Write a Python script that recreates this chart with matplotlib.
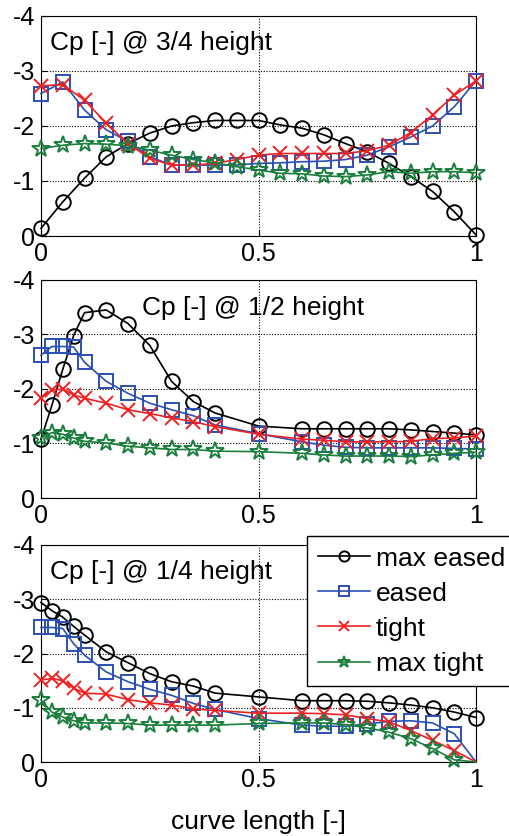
import matplotlib
matplotlib.use("Agg")
import matplotlib.pyplot as plt

plt.rcParams['font.family'] = ['Liberation Sans', 'DejaVu Sans']
plt.rcParams['axes.unicode_minus'] = False

# curve length positions
x_top = [0, 0.05, 0.1, 0.15, 0.2, 0.25, 0.3, 0.35, 0.4, 0.45, 0.5,
         0.55, 0.6, 0.65, 0.7, 0.75, 0.8, 0.85, 0.9, 0.95, 1.0]
x_low = [0, 0.025, 0.05, 0.075, 0.1, 0.15, 0.2, 0.25, 0.3, 0.35, 0.4,
         0.5, 0.6, 0.65, 0.7, 0.75, 0.8, 0.85, 0.9, 0.95, 1.0]

# Cp @ 3/4 height
h34_max_eased = [-0.14, -0.62, -1.05, -1.44, -1.68, -1.87, -2.0, -2.06, -2.1, -2.1, -2.1,
                 -2.02, -1.96, -1.84, -1.68, -1.53, -1.32, -1.08, -0.81, -0.44, -0.02]
h34_eased = [-2.59, -2.8, -2.29, -1.93, -1.72, -1.44, -1.29, -1.29, -1.29, -1.29, -1.32,
             -1.33, -1.35, -1.36, -1.39, -1.47, -1.62, -1.8, -2.0, -2.35, -2.82]
h34_tight = [-2.73, -2.75, -2.47, -2.05, -1.68, -1.41, -1.29, -1.29, -1.32, -1.39, -1.47,
             -1.5, -1.5, -1.5, -1.5, -1.55, -1.65, -1.88, -2.2, -2.56, -2.82]
h34_max_tight = [-1.59, -1.65, -1.68, -1.67, -1.64, -1.56, -1.47, -1.39, -1.33, -1.26, -1.2,
                 -1.14, -1.13, -1.09, -1.08, -1.11, -1.17, -1.14, -1.17, -1.17, -1.15]

# Cp @ 1/2 height
h12_max_eased = [-1.08, -1.7, -2.36, -2.98, -3.4, -3.45, -3.2, -2.8, -2.14, -1.77, -1.56,
                 -1.32, -1.27, -1.27, -1.27, -1.27, -1.27, -1.25, -1.22, -1.19, -1.16]
h12_eased = [-2.62, -2.78, -2.78, -2.77, -2.49, -2.14, -1.92, -1.74, -1.62, -1.51, -1.34,
             -1.18, -1.03, -0.97, -0.93, -0.92, -0.92, -0.92, -0.92, -0.91, -0.9]
h12_tight = [-1.83, -1.98, -2.0, -1.89, -1.83, -1.74, -1.62, -1.55, -1.47, -1.4, -1.31,
             -1.17, -1.08, -1.06, -1.03, -1.03, -1.03, -1.04, -1.09, -1.1, -1.14]
h12_max_tight = [-1.1, -1.2, -1.17, -1.1, -1.04, -1.01, -0.95, -0.92, -0.89, -0.89, -0.86,
                 -0.85, -0.82, -0.79, -0.77, -0.77, -0.77, -0.76, -0.79, -0.82, -0.84]

# Cp @ 1/4 height
h14_max_eased = [-2.94, -2.79, -2.67, -2.5, -2.34, -2.03, -1.83, -1.63, -1.48, -1.4, -1.27,
                 -1.2, -1.13, -1.13, -1.13, -1.12, -1.09, -1.05, -1.0, -0.92, -0.82]
h14_eased = [-2.48, -2.48, -2.46, -2.18, -1.97, -1.66, -1.48, -1.34, -1.23, -1.08, -0.97,
             -0.8, -0.68, -0.66, -0.66, -0.7, -0.75, -0.76, -0.72, -0.52, 0.0]
h14_tight = [-1.51, -1.54, -1.5, -1.36, -1.27, -1.25, -1.15, -1.09, -1.05, -0.98, -0.95,
             -0.9, -0.9, -0.89, -0.87, -0.8, -0.74, -0.58, -0.4, -0.21, 0.0]
h14_max_tight = [-1.14, -0.92, -0.83, -0.76, -0.72, -0.72, -0.71, -0.68, -0.68, -0.68, -0.68,
                 -0.71, -0.72, -0.72, -0.69, -0.63, -0.55, -0.43, -0.25, -0.04, 0.0]

labels = ['max eased', 'eased', 'tight', 'max tight']
colors = ['black', '#2a4fb5', '#f02020', '#1a7f3c']
markers = ['o', 's', 'x', '*']
msizes = [10.5, 9.5, 9.5, 13]

panels = [
    (x_top, [h34_max_eased, h34_eased, h34_tight, h34_max_tight], 'Cp [-] @ 3/4 height',
     (50, 43), [0.0804, 0.7177, 0.853, 0.2632], False),
    (x_low, [h12_max_eased, h12_eased, h12_tight, h12_max_tight], 'Cp [-] @ 1/2 height',
     (142, 308), [0.0804, 0.4043, 0.853, 0.2608], False),
    (x_low, [h14_max_eased, h14_eased, h14_tight, h14_max_tight], 'Cp [-] @ 1/4 height',
     (50, 572), [0.0804, 0.0885, 0.853, 0.2596], True),
]

fig = plt.figure(figsize=(5.1, 8.36), dpi=100)

handles = []
for xs, series, title, (tx, ty), rect, last in panels:
    ax = fig.add_axes(rect)
    handles = []
    for k, ys in enumerate(series):
        n = len(ys)
        # the curves that end on zero at the tip have no marker there
        if last and k > 0:
            mk = list(range(n - 1))
        else:
            mk = None
        h, = ax.plot(xs, ys, color=colors[k], marker=markers[k], ms=msizes[k],
                     mfc='none', mec=colors[k], mew=1.4, lw=1.2, markevery=mk,
                     clip_on=False, label=labels[k], zorder=3)
        handles.append(h)
    ax.set_xlim(0, 1)
    ax.set_ylim(0, -4)
    ax.set_xticks([0, 0.5, 1])
    ax.set_xticklabels(['0', '0.5', '1'])
    ax.set_yticks([0, -1, -2, -3, -4])
    ax.set_yticklabels(['0', '-1', '-2', '-3', '-4'])
    ax.tick_params(direction='in', length=4, labelsize=18, pad=4)
    ax.grid(True, color='black', linestyle=(0, (1, 1.5)), lw=0.8)
    for s in ax.spines.values():
        s.set_linewidth(0.8)
    fig.text(tx / 510, 1 - ty / 836, title, fontsize=19, va='center', ha='left')

ax.set_xlabel('curve length [-]', fontsize=19, labelpad=13)

leg = ax.legend(handles, labels, loc='upper left', bbox_to_anchor=(307 / 510, 1 - 536 / 836),
                bbox_transform=fig.transFigure, fontsize=19, frameon=True, fancybox=False,
                edgecolor='black', framealpha=1, handlelength=2.0, handletextpad=0.2,
                labelspacing=0.42, borderpad=0.4, borderaxespad=0, markerscale=0.7)
leg.get_frame().set_linewidth(1.0)

fig.savefig('out.png', dpi=100)
